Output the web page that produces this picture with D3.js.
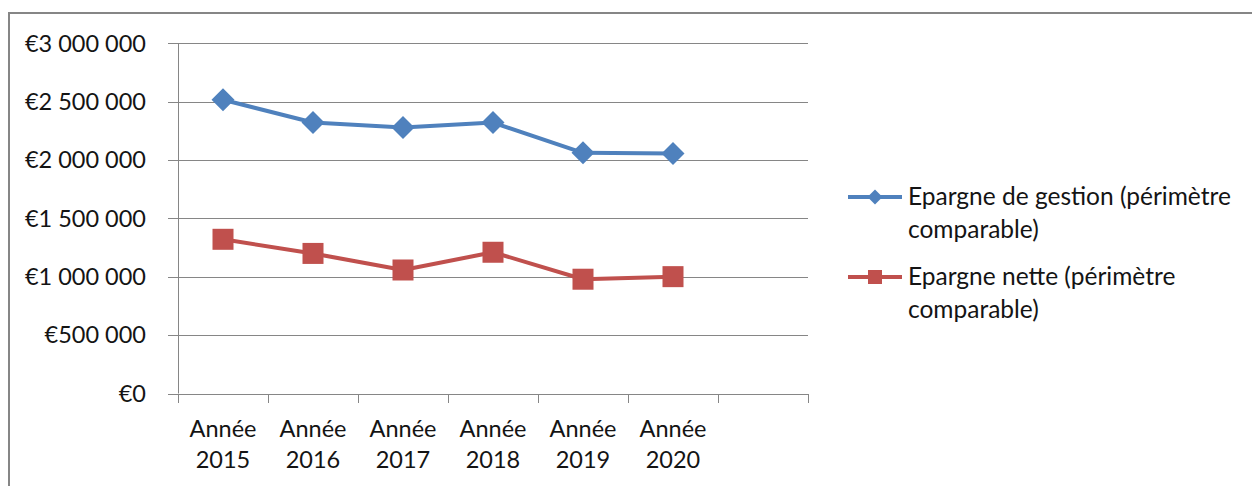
<!DOCTYPE html>
<html>
<head>
<meta charset="utf-8">
<script src="https://cdn.jsdelivr.net/npm/d3@7"></script>
<style>
  html, body { margin: 0; padding: 0; background: #fff; }
  svg { display: block; }
  text { font-family: Lato, "Open Sans", sans-serif; fill: #141414; }
</style>
</head>
<body>
<svg id="chart" width="1252" height="486"></svg>
<script>
// Categories (an extra empty slot is kept on the right, as in the source workbook)
const categories = ["Année 2015", "Année 2016", "Année 2017", "Année 2018", "Année 2019", "Année 2020"];
const emptySlot = "";

// Series values in euros
const epargneGestion = [2516000, 2321000, 2278000, 2321000, 2062000, 2056000];
const epargneNette   = [1321000, 1200000, 1058000, 1210000,  979000, 1001000];

// Y-axis tick values
const yTicks = [0, 500000, 1000000, 1500000, 2000000, 2500000, 3000000];

const seriesNames = ["Epargne de gestion (périmètre comparable)", "Epargne nette (périmètre comparable)"];
const legendLines = [["Epargne de gestion (périmètre", "comparable)"], ["Epargne nette (périmètre", "comparable)"]];

const svg = d3.select("#chart");
const gridColor = "#868686";

// outer chart frame (runs past the right and bottom edges)
svg.append("rect")
  .attr("x", 9).attr("y", 13)
  .attr("width", 1300).attr("height", 600)
  .attr("fill", "none").attr("stroke", gridColor).attr("stroke-width", 2);

const plot = { left: 178, right: 808, top: 43.3, bottom: 393.5 };

const x = d3.scaleBand()
  .domain([...categories, emptySlot])
  .range([plot.left, plot.right])
  .padding(0);

const y = d3.scaleLinear()
  .domain([0, 3000000])
  .range([plot.bottom, plot.top]);

// number format: "€2 500 000"
const fmt = v => "€" + d3.format(",")(v).replace(/,/g, " ");

// horizontal gridlines, extended left as tick marks
svg.append("g").selectAll("line").data(yTicks).join("line")
  .attr("x1", plot.left - 10).attr("x2", plot.right)
  .attr("y1", d => Math.round(y(d)) + 0.5).attr("y2", d => Math.round(y(d)) + 0.5)
  .attr("stroke", gridColor).attr("stroke-width", 1);

// y-axis line
svg.append("line")
  .attr("x1", plot.left + 0.5).attr("x2", plot.left + 0.5)
  .attr("y1", plot.top).attr("y2", plot.bottom)
  .attr("stroke", gridColor).attr("stroke-width", 1);

// y tick labels
svg.append("g").selectAll("text").data(yTicks).join("text")
  .attr("x", 146).attr("y", d => y(d))
  .attr("dy", "0.35em")
  .attr("text-anchor", "end")
  .style("font-size", "23.5px")
  .text(fmt);

// x tick marks at band boundaries
const boundaries = [...x.domain().map(d => x(d)), plot.right];
svg.append("g").selectAll("line").data(boundaries).join("line")
  .attr("x1", d => Math.round(d) + 0.5).attr("x2", d => Math.round(d) + 0.5)
  .attr("y1", Math.round(plot.bottom)).attr("y2", Math.round(plot.bottom) + 9)
  .attr("stroke", gridColor).attr("stroke-width", 1);

// x labels, two lines each
const xl = svg.append("g").selectAll("text").data(categories).join("text")
  .attr("text-anchor", "middle")
  .style("font-size", "23.5px");
xl.each(function (d) {
  const parts = d.split(" ");
  const t = d3.select(this);
  const cx = x(d) + x.bandwidth() / 2;
  parts.forEach((p, i) => {
    t.append("tspan").attr("x", cx).attr("y", 437 + i * 31).text(p);
  });
});

const cx = d => x(d) + x.bandwidth() / 2;
const colors = ["#4F81BD", "#C0504D"];
const seriesData = [epargneGestion, epargneNette];

const line = d3.line()
  .x((v, i) => cx(categories[i]))
  .y(v => y(v));

seriesData.forEach((vals, s) => {
  svg.append("path")
    .datum(vals)
    .attr("d", line)
    .attr("fill", "none")
    .attr("stroke", colors[s])
    .attr("stroke-width", 4)
    .attr("stroke-linejoin", "round");
});

// diamond marker path (half-diagonal r)
const diamondPath = r => `M0,${-r}L${r},0L0,${r}L${-r},0Z`;

svg.append("g").selectAll("path").data(epargneGestion).join("path")
  .attr("transform", (v, i) => `translate(${cx(categories[i])},${y(v)})`)
  .attr("d", diamondPath(11.5))
  .attr("fill", colors[0]);

svg.append("g").selectAll("rect").data(epargneNette).join("rect")
  .attr("x", (v, i) => cx(categories[i]) - 10.5)
  .attr("y", v => y(v) - 10.5)
  .attr("width", 21).attr("height", 21)
  .attr("fill", colors[1]);

// legend
const legendY = [197, 277];
const legend = svg.append("g");
legendLines.forEach((lines, s) => {
  const g = legend.append("g");
  g.append("line")
    .attr("x1", 848).attr("x2", 902)
    .attr("y1", legendY[s]).attr("y2", legendY[s])
    .attr("stroke", colors[s]).attr("stroke-width", 4);
  if (s === 0) {
    g.append("path").attr("transform", `translate(875,${legendY[s]})`)
      .attr("d", diamondPath(7.5)).attr("fill", colors[s]);
  } else {
    g.append("rect").attr("x", 868).attr("y", legendY[s] - 7)
      .attr("width", 14).attr("height", 14).attr("fill", colors[s]);
  }
  const t = g.append("text").style("font-size", "24.5px");
  lines.forEach((ln, i) => {
    t.append("tspan").attr("x", 908).attr("y", legendY[s] + 8 + i * 33).text(ln);
  });
});
</script>
</body>
</html>
